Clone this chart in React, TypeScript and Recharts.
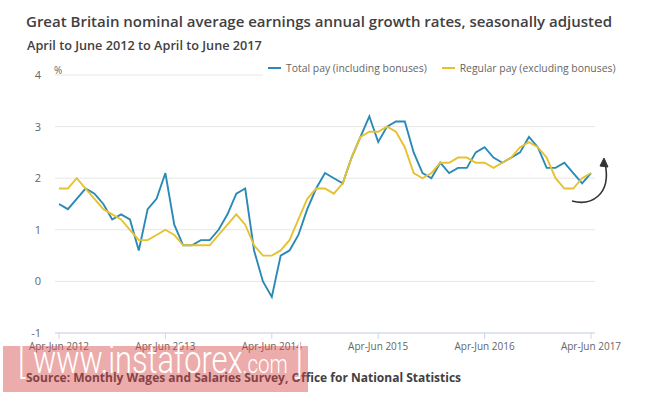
import { LineChart, Line, XAxis, YAxis, CartesianGrid } from "recharts"

const MONTHS = ["Jan", "Feb", "Mar", "Apr", "May", "Jun", "Jul", "Aug", "Sep", "Oct", "Nov", "Dec"]

// rolling 3-month periods, Apr-Jun 2012 .. Apr-Jun 2017
const periods: string[] = Array.from({ length: 61 }, (_, i) => {
  const m = 3 + i
  const a = MONTHS[m % 12]
  const b = MONTHS[(m + 2) % 12]
  return `${a}-${b} ${2012 + Math.floor((m + 2) / 12)}`
})

const totalPay = [
  1.5, 1.4, 1.6, 1.8, 1.7, 1.5, 1.2, 1.3, 1.2, 0.6,
  1.4, 1.6, 2.1, 1.1, 0.7, 0.7, 0.8, 0.8, 1.0, 1.3,
  1.7, 1.8, 0.6, 0.0, -0.3, 0.5, 0.6, 0.9, 1.4, 1.8,
  2.1, 2.0, 1.9, 2.4, 2.8, 3.2, 2.7, 3.0, 3.1, 3.1,
  2.5, 2.1, 2.0, 2.3, 2.1, 2.2, 2.2, 2.5, 2.6, 2.4,
  2.3, 2.4, 2.5, 2.8, 2.6, 2.2, 2.2, 2.3, 2.1, 1.9,
  2.1,
]

const regularPay = [
  1.8, 1.8, 2.0, 1.8, 1.6, 1.4, 1.3, 1.2, 1.0, 0.8,
  0.8, 0.9, 1.0, 0.9, 0.7, 0.7, 0.7, 0.7, 0.9, 1.1,
  1.3, 1.1, 0.7, 0.5, 0.5, 0.6, 0.8, 1.2, 1.6, 1.8,
  1.8, 1.7, 1.9, 2.4, 2.8, 2.9, 2.9, 3.0, 2.9, 2.6,
  2.1, 2.0, 2.1, 2.3, 2.3, 2.4, 2.4, 2.3, 2.3, 2.2,
  2.3, 2.4, 2.6, 2.7, 2.6, 2.4, 2.0, 1.8, 1.8, 2.0,
  2.1,
]

const yTicks = [-1, 0, 1, 2, 3, 4]

const BLUE = "#2a8ab5"
const YELLOW = "#e6c232"
const FONT = "'Open Sans', sans-serif"

const chartData = periods.map((p, i) => ({ period: p, total: totalPay[i], regular: regularPay[i] }))

export default function App() {
  return (
    <div style={{ position: "absolute", left: 0, top: 0, width: 665, height: 394, background: "#fff", fontFamily: FONT, overflow: "hidden" }}>
      <div style={{ position: "absolute", left: 26, top: 11, fontSize: 15, fontWeight: 600, color: "#414042", whiteSpace: "nowrap" }}>
        Great Britain nominal average earnings annual growth rates, seasonally adjusted
      </div>
      <div style={{ position: "absolute", left: 27, top: 36, fontSize: 12.7, fontWeight: 600, color: "#414042", whiteSpace: "nowrap" }}>
        April to June 2012 to April to June 2017
      </div>

      <LineChart width={665} height={394} data={chartData}
        margin={{ top: 75, right: 70, bottom: 31, left: 0 }}>
        <CartesianGrid stroke="#e6e6e6" vertical={false} />
        <XAxis dataKey="period" interval={11} padding={{ left: 4, right: 4 }}
          stroke="#ccd6eb" tickLine={{ stroke: "#ccd6eb" }} tickMargin={4}
          tick={{ fontSize: 10, fill: "#666", fontFamily: FONT }} />
        <YAxis domain={[-1, 4]} ticks={yTicks} width={55} axisLine={false} tickLine={false}
          tickMargin={8} tick={{ fontSize: 11, fill: "#666", fontFamily: FONT }} />
        <Line dataKey="total" stroke={BLUE} strokeWidth={1.9} dot={false} isAnimationActive={false} />
        <Line dataKey="regular" stroke={YELLOW} strokeWidth={1.9} dot={false} isAnimationActive={false} />
      </LineChart>

      <div style={{ position: "absolute", left: 54, top: 63, fontSize: 10, color: "#666" }}>%</div>

      {/* legend sits on a white band over the top grid line */}
      <div style={{ position: "absolute", left: 263, top: 58, width: 360, height: 19, background: "#fff",
        display: "flex", alignItems: "center", fontSize: 10.4, color: "#666", whiteSpace: "nowrap" }}>
        <span style={{ display: "inline-block", width: 13, height: 2, background: BLUE, marginLeft: 5, marginRight: 5 }} />
        <span>Total pay (including bonuses)</span>
        <span style={{ display: "inline-block", width: 13, height: 2, background: YELLOW, marginLeft: 15, marginRight: 5 }} />
        <span>Regular pay (excluding bonuses)</span>
      </div>

      <svg width={665} height={394} style={{ position: "absolute", left: 0, top: 0, pointerEvents: "none" }}>
        <path d="M572 201 C590 206 612 196 605 163" fill="none" stroke="#333" strokeWidth={1.6} />
        <path d="M600 166 L604 158 L608 167 Z" fill="#333" stroke="#333" strokeWidth={1} />
      </svg>

      <div style={{ position: "absolute", left: 26, top: 369, fontSize: 12, fontWeight: 700, color: "#414042", whiteSpace: "nowrap" }}>
        Source: Monthly Wages and Salaries Survey, Office for National Statistics
      </div>

      {/* watermark */}
      <div style={{ position: "absolute", left: 3, top: 346, width: 305, height: 46, background: "rgba(214, 70, 70, 0.45)" }}>
        <div style={{ position: "absolute", left: 15, top: -9, fontSize: 39, fontWeight: 300, color: "#fff",
          fontFamily: "Roboto, sans-serif", whiteSpace: "nowrap", transform: "scaleX(0.79)", transformOrigin: "left top" }}>
          [ www.instaforex<span style={{ fontSize: 26 }}>.com</span> ]
        </div>
      </div>
    </div>
  )
}
